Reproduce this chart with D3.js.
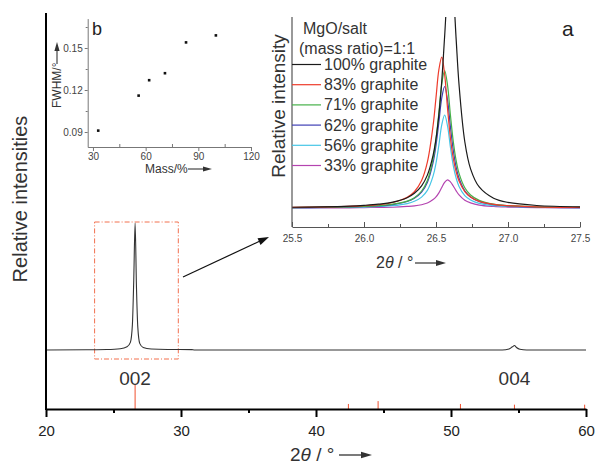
<!DOCTYPE html>
<html>
<head>
<meta charset="utf-8">
<script src="https://cdn.jsdelivr.net/npm/d3@7/dist/d3.min.js"></script>
<style>
  html, body { margin: 0; padding: 0; background: #fff; }
  svg { display: block; font-family: "Liberation Sans", Arial, sans-serif; }
</style>
</head>
<body>
<svg id="chart" width="596" height="467"></svg>
<script>
// ---- Main XRD pattern (2θ 20–60°) ----
const mainTheta     = [20, 23, 24.5, 25.5, 26.0, 26.25, 26.4, 26.5, 26.6, 26.7, 26.8, 26.95, 27.2, 27.8, 29, 30.8, 31, 40, 53.8, 54.3, 54.55, 54.7, 54.85, 55.1, 55.6, 60];
const mainIntensity = [0, 0.002, 0.004, 0.01, 0.025, 0.06, 0.2, 0.55, 1.0, 0.5, 0.18, 0.05, 0.02, 0.008, 0.004, 0.003, 0, 0, 0, 0.008, 0.025, 0.035, 0.02, 0.006, 0, 0];
const mainTicks      = [20, 30, 40, 50, 60];
const mainMinorTicks = [25, 35, 45, 55];
const reflexLabels   = [{ text: "002", theta: 26.6 }, { text: "004", theta: 54.7 }];

// Reference stick pattern (graphite)
const stickTheta     = [26.6, 42.4, 44.6, 50.7, 54.7, 59.9];
const stickIntensity = [100, 21, 33, 21, 18, 18];

// ---- Inset a: 002 reflection for different graphite contents ----
const seriesNames  = ["100% graphite", "83% graphite", "71% graphite", "62% graphite", "56% graphite", "33% graphite"];
const seriesColors = ["#1a1a1a", "#ee3b2b", "#45b048", "#3f3fb5", "#46c6e6", "#b444b0"];
const insetTheta = [25.5, 25.7, 25.9, 26.0, 26.1, 26.2, 26.3, 26.35, 26.4, 26.44, 26.48, 26.5, 26.52, 26.54, 26.56, 26.58, 26.6, 26.62, 26.64, 26.66, 26.7, 26.74, 26.8, 26.9, 27.0, 27.2, 27.5];
const g100 = [0.004, 0.006, 0.010, 0.014, 0.020, 0.031, 0.054, 0.077, 0.116, 0.172, 0.277, 0.363, 0.488, 0.665, 0.899, 1.139, 1.25, 1.132, 0.883, 0.645, 0.347, 0.205, 0.110, 0.051, 0.029, 0.013, 0.006];
const g83  = [0.003, 0.005, 0.008, 0.012, 0.017, 0.029, 0.056, 0.085, 0.144, 0.240, 0.433, 0.578, 0.724, 0.790, 0.700, 0.523, 0.368, 0.260, 0.189, 0.141, 0.086, 0.057, 0.035, 0.019, 0.012, 0.006, 0.003];
const g71  = [0.002, 0.004, 0.006, 0.008, 0.012, 0.020, 0.036, 0.054, 0.089, 0.144, 0.259, 0.360, 0.499, 0.648, 0.720, 0.643, 0.488, 0.348, 0.248, 0.181, 0.106, 0.068, 0.040, 0.020, 0.012, 0.006, 0.003];
const g62  = [0.002, 0.003, 0.006, 0.008, 0.011, 0.018, 0.034, 0.051, 0.083, 0.134, 0.239, 0.328, 0.449, 0.576, 0.636, 0.566, 0.426, 0.302, 0.214, 0.156, 0.090, 0.058, 0.034, 0.017, 0.011, 0.005, 0.002];
const g56  = [0.002, 0.002, 0.004, 0.005, 0.008, 0.012, 0.023, 0.035, 0.057, 0.092, 0.168, 0.235, 0.330, 0.435, 0.487, 0.430, 0.319, 0.222, 0.156, 0.113, 0.065, 0.042, 0.024, 0.012, 0.008, 0.004, 0.002];
const g33  = [0.001, 0.001, 0.001, 0.002, 0.003, 0.004, 0.008, 0.011, 0.017, 0.026, 0.044, 0.058, 0.079, 0.107, 0.134, 0.147, 0.137, 0.115, 0.090, 0.069, 0.041, 0.027, 0.015, 0.008, 0.005, 0.002, 0.001];
const insetSeries = [g100, g83, g71, g62, g56, g33];
const insetTicks      = [25.5, 26.0, 26.5, 27.0, 27.5];
const insetMinorTicks = [25.75, 26.25, 26.75, 27.25];

// ---- Inset b: FWHM versus graphite mass fraction ----
const massPct = [33, 56, 62, 71, 83, 100];
const fwhm    = [0.091, 0.116, 0.127, 0.132, 0.154, 0.159];
const bXTicks = [30, 60, 90, 120];
const bXMinor = [45, 75, 105];
const bYTicks = [0.09, 0.12, 0.15];
const bYMinor = [0.105, 0.135, 0.165];

const svg = d3.select("#chart");
const ink = "#222";

function arrowHead(x, y, dx, dy, len, half) {
  // filled triangle pointing along (dx, dy)
  const n = Math.hypot(dx, dy), ux = dx / n, uy = dy / n;
  const bx = x - ux * len, by = y - uy * len;
  return `M${x},${y}L${bx - uy * half},${by + ux * half}L${bx + uy * half},${by - ux * half}Z`;
}

// ================= Main panel =================
const x = d3.scaleLinear().domain([20, 60]).range([46, 586]);
const yCurve = d3.scaleLinear().domain([0, 1]).range([350, 223]);
const yStick = d3.scaleLinear().domain([0, 100]).range([409, 385]);

// zoom window around the 002 reflection
svg.append("rect")
  .attr("x", x(23.6)).attr("y", 222)
  .attr("width", x(29.8) - x(23.6)).attr("height", 137)
  .attr("fill", "none").attr("stroke", "#f2704f").attr("stroke-width", 1)
  .attr("stroke-dasharray", "5,2,1,2");

// measured pattern
svg.append("path")
  .datum(mainTheta.map((t, i) => [t, mainIntensity[i]]))
  .attr("fill", "none").attr("stroke", "#333").attr("stroke-width", 1.1)
  .attr("d", d3.line().x(d => x(d[0])).y(d => yCurve(d[1])).curve(d3.curveMonotoneX));

// reference sticks
svg.append("g").selectAll("line")
  .data(stickTheta.map((t, i) => [t, stickIntensity[i]]))
  .join("line")
  .attr("x1", d => x(d[0])).attr("x2", d => x(d[0]))
  .attr("y1", yStick(0)).attr("y2", d => yStick(d[1]))
  .attr("stroke", "#f0502e").attr("stroke-width", 1);

// axes
const axisMain = svg.append("g").attr("transform", "translate(0,409)")
  .call(d3.axisBottom(x).tickValues(mainTicks).tickSize(8).tickSizeOuter(0).tickFormat(d3.format("d")));
axisMain.select(".domain").attr("stroke", "#000").attr("stroke-width", 2);
axisMain.selectAll(".tick line").attr("stroke", "#000").attr("stroke-width", 2);
axisMain.selectAll(".tick text").attr("font-size", 15).attr("fill", ink).attr("dy", "1.05em")
  .attr("font-family", "Liberation Sans, Arial, sans-serif");
const axisMinor = svg.append("g").attr("transform", "translate(0,409)")
  .call(d3.axisBottom(x).tickValues(mainMinorTicks).tickSize(4).tickFormat(""));
axisMinor.select(".domain").remove();
axisMinor.selectAll(".tick line").attr("stroke", "#000").attr("stroke-width", 2);

svg.append("line").attr("x1", 46).attr("x2", 46).attr("y1", 13).attr("y2", 410)
  .attr("stroke", "#000").attr("stroke-width", 2);

svg.append("text")
  .attr("transform", "translate(27,199) rotate(-90)")
  .attr("text-anchor", "middle").attr("font-size", 20).attr("fill", "#333")
  .text("Relative intensities");

const xt = svg.append("text").attr("x", 290).attr("y", 461).attr("font-size", 19).attr("fill", "#333");
xt.append("tspan").text("2");
xt.append("tspan").attr("font-style", "italic").text("θ");
xt.append("tspan").text(" / °");
svg.append("line").attr("x1", 339).attr("x2", 362).attr("y1", 455).attr("y2", 455)
  .attr("stroke", "#333").attr("stroke-width", 1.3);
svg.append("path").attr("d", arrowHead(372, 455, 1, 0, 11, 3.2)).attr("fill", "#333");

svg.append("g").selectAll("text").data(reflexLabels).join("text")
  .attr("x", d => x(d.theta)).attr("y", 385)
  .attr("text-anchor", "middle").attr("font-size", 19).attr("fill", "#333")
  .text(d => d.text);

// pointer from zoom window to inset a
svg.append("line").attr("x1", 183).attr("y1", 277).attr("x2", 260).attr("y2", 241)
  .attr("stroke", "#111").attr("stroke-width", 1.2);
svg.append("path").attr("d", arrowHead(269, 237, 86, -40, 11, 3.6)).attr("fill", "#111");

// ================= Inset a =================
const xA = d3.scaleLinear().domain([25.5, 27.5]).range([292, 580]);
const yA = d3.scaleLinear().domain([0, 1]).range([208, 17]);

svg.append("clipPath").attr("id", "clipA")
  .append("rect").attr("x", 292).attr("y", 17).attr("width", 290).attr("height", 210);

const lineA = d3.line().x(d => xA(d[0])).y(d => yA(d[1])).curve(d3.curveCatmullRom.alpha(0.5));
svg.append("g").attr("clip-path", "url(#clipA)").selectAll("path")
  .data(insetSeries.map((s, k) => ({ k, pts: insetTheta.map((t, i) => [t, s[i]]) })).reverse())
  .join("path")
  .attr("fill", "none").attr("stroke", d => seriesColors[d.k]).attr("stroke-width", 1.2)
  .attr("d", d => lineA(d.pts));

const axA = svg.append("g").attr("transform", "translate(0,227)")
  .call(d3.axisBottom(xA).tickValues(insetTicks).tickSize(-5).tickSizeOuter(0).tickFormat(d3.format(".1f")));
axA.select(".domain").attr("stroke", "#555").attr("stroke-width", 1.2);
axA.selectAll(".tick line").attr("stroke", "#555");
axA.selectAll(".tick text").attr("font-size", 10).attr("fill", "#444").attr("dy", "1.15em").attr("y", 3)
  .attr("font-family", "Liberation Sans, Arial, sans-serif");
const axAm = svg.append("g").attr("transform", "translate(0,227)")
  .call(d3.axisBottom(xA).tickValues(insetMinorTicks).tickSize(-3).tickFormat(""));
axAm.select(".domain").remove();
axAm.selectAll(".tick line").attr("stroke", "#555");
svg.append("line").attr("x1", 292).attr("x2", 292).attr("y1", 17).attr("y2", 227)
  .attr("stroke", "#555").attr("stroke-width", 1.2);

svg.append("text")
  .attr("transform", "translate(285,106) rotate(-90)")
  .attr("text-anchor", "middle").attr("font-size", 19).attr("fill", "#333")
  .text("Relative intensity");

const at = svg.append("text").attr("x", 376).attr("y", 268).attr("font-size", 16).attr("fill", "#333");
at.append("tspan").text("2");
at.append("tspan").attr("font-style", "italic").text("θ");
at.append("tspan").text(" / °");
svg.append("line").attr("x1", 415).attr("x2", 436).attr("y1", 263).attr("y2", 263)
  .attr("stroke", "#333").attr("stroke-width", 1.2);
svg.append("path").attr("d", arrowHead(446, 263, 1, 0, 10, 3)).attr("fill", "#333");

svg.append("text").attr("x", 562).attr("y", 36).attr("font-size", 21).attr("fill", "#222").text("a");

// legend
svg.append("text").attr("x", 303).attr("y", 34).attr("font-size", 16).attr("fill", "#333").text("MgO/salt");
svg.append("text").attr("x", 299).attr("y", 54).attr("font-size", 16).attr("fill", "#333").text("(mass ratio)=1:1");
const leg = svg.append("g").selectAll("g").data(seriesNames).join("g")
  .attr("transform", (d, i) => `translate(0,${64.5 + i * 20.2})`);
leg.append("line").attr("x1", 292).attr("x2", 321).attr("y1", 0).attr("y2", 0)
  .attr("stroke", (d, i) => seriesColors[i]).attr("stroke-width", 1.2);
leg.append("text").attr("x", 324).attr("y", 5.5).attr("font-size", 16).attr("fill", "#333").text(d => d);

// ================= Inset b =================
const xB = d3.scaleLinear().domain([27, 120]).range([87.7, 251]);
const yB = d3.scaleLinear().domain([0.0793, 0.171]).range([147, 18.6]);

const axBx = svg.append("g").attr("transform", "translate(0,147)")
  .call(d3.axisBottom(xB).tickValues(bXTicks).tickSize(4).tickSizeOuter(0));
axBx.select(".domain").attr("stroke", "#777");
axBx.selectAll(".tick line").attr("stroke", "#777");
axBx.selectAll(".tick text").attr("font-size", 10).attr("fill", "#444").attr("y", 6)
  .attr("font-family", "Liberation Sans, Arial, sans-serif");
const axBxm = svg.append("g").attr("transform", "translate(0,147)")
  .call(d3.axisBottom(xB).tickValues(bXMinor).tickSize(-3).tickFormat(""));
axBxm.select(".domain").remove();
axBxm.selectAll(".tick line").attr("stroke", "#777");

const axBy = svg.append("g").attr("transform", "translate(87.7,0)")
  .call(d3.axisLeft(yB).tickValues(bYTicks).tickSize(3).tickSizeOuter(0).tickFormat(d3.format(".2f")));
axBy.select(".domain").attr("stroke", "#777");
axBy.selectAll(".tick line").attr("stroke", "#777");
axBy.selectAll(".tick text").attr("font-size", 10).attr("fill", "#444").attr("x", -5)
  .attr("font-family", "Liberation Sans, Arial, sans-serif");
const axBym = svg.append("g").attr("transform", "translate(87.7,0)")
  .call(d3.axisLeft(yB).tickValues(bYMinor).tickSize(2).tickFormat(""));
axBym.select(".domain").remove();
axBym.selectAll(".tick line").attr("stroke", "#777");

svg.append("g").selectAll("rect").data(massPct.map((m, i) => [m, fwhm[i]])).join("rect")
  .attr("x", d => xB(d[0]) - 1.3).attr("y", d => yB(d[1]) - 1.3)
  .attr("width", 2.6).attr("height", 2.6).attr("fill", "#111");

svg.append("text").attr("x", 92).attr("y", 35).attr("font-size", 18).attr("fill", "#222").text("b");

svg.append("text").attr("x", 145).attr("y", 173).attr("font-size", 12).attr("fill", "#333").text("Mass/%");
svg.append("line").attr("x1", 188).attr("x2", 203).attr("y1", 169).attr("y2", 169)
  .attr("stroke", "#333").attr("stroke-width", 1.1);
svg.append("path").attr("d", arrowHead(212, 169, 1, 0, 9, 2.6)).attr("fill", "#333");

svg.append("text")
  .attr("transform", "translate(61,108) rotate(-90)")
  .attr("font-size", 12).attr("fill", "#333").text("FWHM/°");
svg.append("line").attr("x1", 57).attr("x2", 57).attr("y1", 64).attr("y2", 51)
  .attr("stroke", "#333").attr("stroke-width", 1.1);
svg.append("path").attr("d", arrowHead(57, 42, 0, -1, 9, 2.6)).attr("fill", "#333");
</script>
</body>
</html>
